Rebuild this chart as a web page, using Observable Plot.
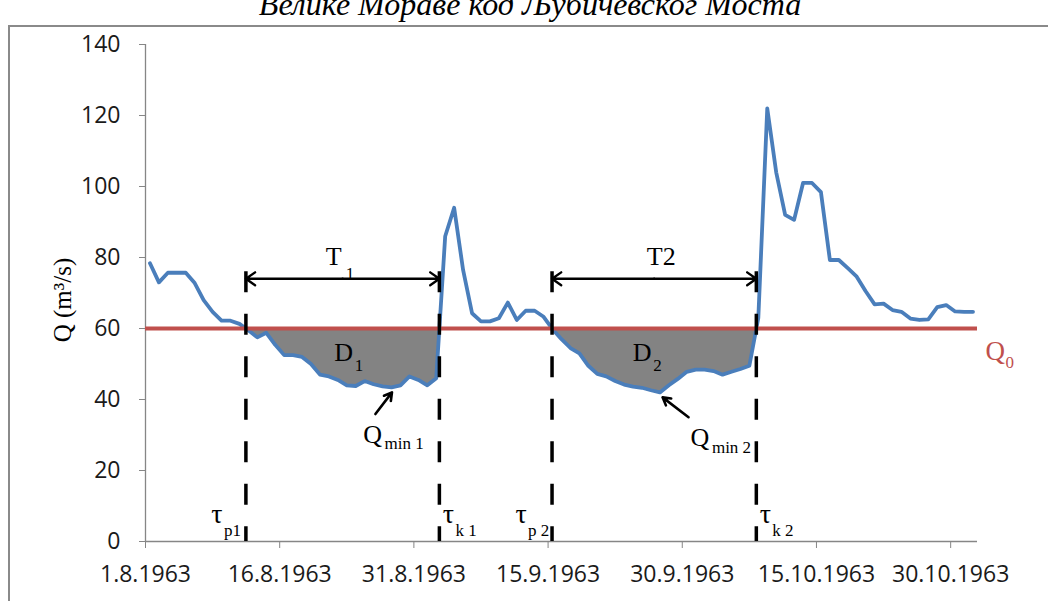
<!DOCTYPE html>
<html>
<head>
<meta charset="utf-8">
<script src="https://cdn.jsdelivr.net/npm/d3@7"></script>
<script src="https://cdn.jsdelivr.net/npm/@observablehq/plot@0.6"></script>
<style>
  html, body { margin: 0; padding: 0; background: #fff; width: 1048px; height: 601px; overflow: hidden; }
  #title { position: absolute; left: 6px; top: -14px; width: 1048px; text-align: center; line-height: 32px;
           font: italic 32px "Liberation Serif", serif; color: #000; white-space: nowrap; }
  #frame { position: absolute; left: 8px; top: 25px; width: 1100px; height: 700px;
           border: 2px solid #8a8a8a; box-sizing: border-box; }
  #chart { position: absolute; left: 0; top: 0; }
</style>
</head>
<body>
<div id="frame"></div>
<div id="chart"></div>
<div id="title">Велике Мораве код Љубичевског Моста</div>
<script>
// Daily discharge Q (m³/s), starting on 1.8.1963
const firstDay = [1963, 7, 1];
const discharge = [
  78.4, 73.0, 75.7, 75.7, 75.7, 72.8, 68.0, 64.7, 62.2, 62.2,
  61.3, 59.5, 57.5, 58.8, 55.4, 52.5, 52.5, 52.0, 50.0, 47.0,
  46.5, 45.5, 44.0, 43.8, 45.2, 44.3, 43.7, 43.4, 44.0, 46.5,
  45.5, 44.0, 46.0, 86.0, 94.0, 76.5, 64.3, 62.0, 62.0, 62.9,
  67.3, 62.4, 65.0, 65.0, 63.3, 59.8, 57.0, 54.5, 53.0, 49.5,
  47.2, 46.5, 45.2, 44.2, 43.6, 43.3, 42.6, 42.0, 44.0, 45.8,
  47.8, 48.4, 48.4, 48.0, 47.0, 47.8, 48.6, 49.5, 63.0, 122.0,
  104.0, 92.0, 90.6, 101.0, 101.0, 98.4, 79.3, 79.3, 77.0, 74.6,
  70.5, 66.8, 67.0, 65.2, 64.7, 62.8, 62.4, 62.6, 66.0, 66.6,
  64.8, 64.7, 64.7
];
// Threshold discharge Q0
const q0 = 60;
// Axis ticks
const yTicks = [0, 20, 40, 60, 80, 100, 120, 140];
const xTickDays = [[1963, 7, 1], [1963, 7, 16], [1963, 7, 31], [1963, 8, 15], [1963, 8, 30], [1963, 9, 15], [1963, 9, 30]];
const xTickLabels = ["1.8.1963", "16.8.1963", "31.8.1963", "15.9.1963", "30.9.1963", "15.10.1963", "30.10.1963"];
const xDomainDays = [[1963, 7, 1], [1963, 10, 2]];
// Names of the drought spells and their labels
const spellDurationLabels = [["T", "1"], ["T2", ""]];
const spellDeficitLabels = [["D", "1"], ["D", "2"]];
const spellMinLabels = [["Q", "min 1"], ["Q", "min 2"]];
const spellStartLabels = [["τ", "p1"], ["τ", "p 2"]];
const spellEndLabels = [["τ", "k 1"], ["τ", "k 2"]];

const utc = ([y, m, d], h = 0) => new Date(Date.UTC(y, m, d, h));
const series = discharge.map((q, i) => ({date: utc([firstDay[0], firstDay[1], firstDay[2] + i], 12), q}));
const xDomain = xDomainDays.map(d => utc(d));
const xTicks = xTickDays.map(d => utc(d));

// Find the spells below Q0, with the crossing instants interpolated linearly
const crossing = (a, b) => new Date(+a.date + (q0 - a.q) / (b.q - a.q) * (b.date - a.date));
const spells = [];
let current = null;
for (let i = 1; i < series.length; i++) {
  const a = series[i - 1], b = series[i];
  if (a.q >= q0 && b.q < q0) {
    const s = crossing(a, b);
    current = {start: s, pts: [{date: s, q: q0}]};
  }
  if (current && b.q < q0) current.pts.push(b);
  if (current && a.q < q0 && b.q >= q0) {
    const e = crossing(a, b);
    current.pts.push({date: e, q: q0});
    current.end = e;
    spells.push(current);
    current = null;
  }
}
const droughts = spells.filter(s => (s.end - s.start) > 5 * 864e5);
droughts.forEach((s, k) => {
  s.mid = new Date((+s.start + +s.end) / 2);
  s.min = s.pts.reduce((m, p) => p.q < m.q ? p : m);
  s.k = k;
});

const day = 864e5;
const shift = (d, days) => new Date(+d + days * day);
const serif = "Liberation Serif, Times New Roman, serif";
const sans = "Open Sans, Lato, sans-serif";
const grey = "#868686";
const tauTop = 76, arrowQ = 74;

const marks = [];
// Deficit areas
droughts.forEach(s => marks.push(Plot.areaY(s.pts, {x: "date", y1: "q", y2: q0, fill: "#838383", curve: "linear"})));
// Axes
marks.push(
  Plot.ruleY([0], {x1: xDomain[0], x2: xDomain[1], stroke: grey, strokeWidth: 1.3}),
  Plot.ruleX([xDomain[0]], {y1: 0, y2: 140, stroke: grey, strokeWidth: 1.3}),
  Plot.axisY({ticks: yTicks, tickSize: 6, tickPadding: 19, stroke: grey, fill: "#1a1a1a",
              fontSize: 23, fontFamily: sans, label: null}),
  Plot.axisX({ticks: xTicks, tickSize: 7, tickPadding: 17, stroke: grey, fill: "#1a1a1a",
              fontSize: 23, fontFamily: sans, label: null, tickFormat: (d, i) => xTickLabels[i]})
);
// Hydrograph and threshold
marks.push(
  Plot.line(series, {x: "date", y: "q", stroke: "#4A7EBB", strokeWidth: 3.8, strokeLinejoin: "round"}),
  Plot.ruleY([q0], {x1: xDomain[0], x2: xDomain[1], stroke: "#C0504D", strokeWidth: 4})
);
// Start / end of each spell
const taus = droughts.flatMap(s => [s.start, s.end]);
marks.push(Plot.ruleX(taus, {x: d => d, y1: tauTop, y2: 0, stroke: "#000", strokeWidth: 3.5, strokeDasharray: "21,21.5"}));
// Duration arrows
droughts.forEach(s => {
  marks.push(
    Plot.arrow([s], {x1: "mid", y1: arrowQ, x2: "start", y2: arrowQ, stroke: "#000", strokeWidth: 2.4, headLength: 7, headAngle: 70}),
    Plot.arrow([s], {x1: "mid", y1: arrowQ, x2: "end", y2: arrowQ, stroke: "#000", strokeWidth: 2.4, headLength: 7, headAngle: 70})
  );
});
// Text labels
const label = (data, opts) => Plot.text(data, {fontFamily: serif, fill: "#000", ...opts});
droughts.forEach(s => {
  const k = s.k;
  const [tMain, tSub] = spellDurationLabels[k];
  const tdx = k === 0 ? -9 : 7;
  marks.push(label([s], {x: "mid", y: arrowQ, text: () => tMain, fontSize: 26, dy: -22, dx: tdx, textAnchor: "middle"}));
  if (tSub) marks.push(label([s], {x: "mid", y: arrowQ, text: () => tSub, fontSize: 17, dy: -5, dx: tdx + 12, textAnchor: "start"}));
  const [dMain, dSub] = spellDeficitLabels[k];
  const ddx = k === 0 ? 1 : -12;
  marks.push(
    label([s], {x: "mid", y: q0, text: () => dMain, fontSize: 26, dy: 24, dx: ddx, textAnchor: "middle"}),
    label([s], {x: "mid", y: q0, text: () => dSub, fontSize: 17, dy: 37, dx: ddx + 11, textAnchor: "start"})
  );
  // Minimum discharge pointer
  const [qMain, qSub] = spellMinLabels[k];
  const m = s.min;
  const dir = k === 0 ? -1 : 1;
  marks.push(
    Plot.arrow([m], {x1: d => shift(d.date, dir * (k === 0 ? 1.8 : 3.2)), y1: d => d.q - (k === 0 ? 7.5 : 7.0),
                     x2: d => shift(d.date, k === 0 ? 0.05 : 0.3), y2: d => d.q - 1.4,
                     stroke: "#000", strokeWidth: 2.6, headLength: 5, headAngle: 60}),
    label([m], {x: "date", y: "q", text: () => qMain, fontSize: 26, dy: k === 0 ? 47 : 45, dx: k === 0 ? -19 : 40, textAnchor: "middle"}),
    label([m], {x: "date", y: "q", text: () => qSub, fontSize: 17, dy: k === 0 ? 56 : 55, dx: k === 0 ? -7 : 52, textAnchor: "start"})
  );
  // Spell start and end markers
  const [sMain, sSub] = spellStartLabels[k];
  const [eMain, eSub] = spellEndLabels[k];
  const sw = k === 0 ? 22 : 24;
  marks.push(
    label([s], {x: "start", y: 0, text: () => sMain, fontSize: 28, dy: -27, dx: -sw - 7, textAnchor: "middle"}),
    label([s], {x: "start", y: 0, text: () => sSub, fontSize: 17, dy: -11, dx: -sw, textAnchor: "start"}),
    label([s], {x: "end", y: 0, text: () => eMain, fontSize: 28, dy: -27, dx: 9, textAnchor: "middle"}),
    label([s], {x: "end", y: 0, text: () => eSub, fontSize: 17, dy: -11, dx: 16, textAnchor: "start"})
  );
});
// Threshold label
marks.push(
  label([q0], {x: xDomain[1], y: d => d, text: () => "Q", fill: "#C0504D", fontSize: 27, dy: 23, dx: 8, textAnchor: "start"}),
  label([q0], {x: xDomain[1], y: d => d, text: () => "0", fill: "#C0504D", fontSize: 17, dy: 34, dx: 28, textAnchor: "start"})
);
// Y axis title
marks.push(Plot.text(["Q (m³/s)"], {frameAnchor: "left", textAnchor: "middle", dx: -83, dy: 7, rotate: -90, fontFamily: serif, fontSize: 25, fill: "#000"}));

const chart = Plot.plot({
  width: 1048,
  height: 601,
  marginLeft: 145,
  marginRight: 71,
  marginTop: 44,
  marginBottom: 60,
  x: {type: "utc", domain: xDomain},
  y: {domain: [0, 140]},
  style: {background: "transparent", overflow: "visible"},
  marks
});
document.getElementById("chart").append(chart);
</script>
</body>
</html>
